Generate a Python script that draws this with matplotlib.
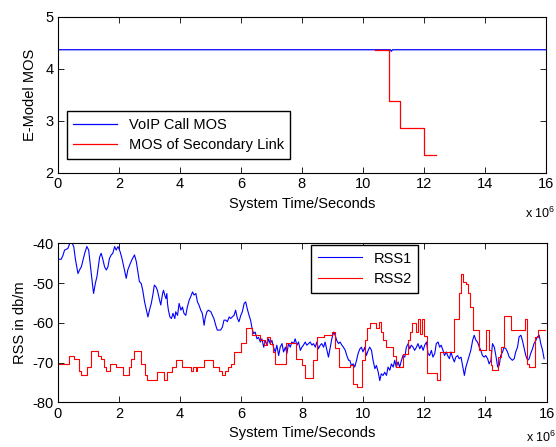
import matplotlib
matplotlib.use("Agg")
import matplotlib.pyplot as plt

plt.rcParams['font.family'] = ['Liberation Sans', 'DejaVu Sans']
plt.rcParams['mathtext.default'] = 'regular'
plt.rcParams['axes.unicode_minus'] = False

# ---- top panel: MOS (time in units of 1e6 s)
voip_time = [0, 10.90, 10.93, 10.97, 16]
voip_mos = [4.37, 4.37, 4.34, 4.37, 4.37]
sec_time = [10.4, 10.85, 11.2, 12.0, 12.4]
sec_mos = [4.37, 3.38, 2.87, 2.34, 2.34]

# ---- bottom panel: RSS1 (blue, noisy)
rss1_time = [0.00, 0.11, 0.17, 0.22, 0.33, 0.39, 0.46, 0.52, 0.58, 0.66, 0.71, 0.77, 0.88, 0.95, 1.01,
             1.04, 1.13, 1.17, 1.23, 1.28, 1.37, 1.42, 1.48, 1.53, 1.59, 1.64, 1.69, 1.75, 1.80, 1.86,
             1.91, 1.97, 2.04, 2.10, 2.18, 2.24, 2.29, 2.35, 2.42, 2.51, 2.57, 2.62, 2.67, 2.73, 2.78,
             2.84, 2.89, 2.95, 3.00, 3.06, 3.11, 3.16,
             3.21, 3.26, 3.32, 3.37, 3.43, 3.46, 3.50, 3.54, 3.57, 3.59, 3.62, 3.67, 3.72, 3.77, 3.83,
             3.86, 3.92, 3.97, 4.03, 4.08, 4.13, 4.19, 4.24, 4.30, 4.35, 4.41, 4.46, 4.52, 4.57, 4.62,
             4.68, 4.73, 4.79, 4.82, 4.88, 4.93, 5.01, 5.06, 5.11, 5.17, 5.22, 5.28, 5.33, 5.39, 5.44,
             5.50, 5.55, 5.61, 5.66, 5.71, 5.77, 5.82, 5.88, 5.93, 5.99, 6.04, 6.10, 6.15, 6.20, 6.26, 6.31,
             6.36, 6.41, 6.46, 6.52, 6.57, 6.63, 6.68, 6.74, 6.79, 6.85, 6.90, 6.95, 7.01, 7.06, 7.12,
             7.17, 7.23, 7.28, 7.34, 7.39, 7.45, 7.50, 7.55, 7.61, 7.66, 7.72, 7.77, 7.83, 7.88, 7.94,
             7.99, 8.04, 8.10, 8.15, 8.21, 8.26, 8.32, 8.37, 8.43, 8.48, 8.53, 8.59, 8.64, 8.70, 8.75,
             8.81, 8.86, 8.92, 8.97, 9.03, 9.08, 9.13, 9.19, 9.24, 9.30, 9.35, 9.41, 9.46, 9.52,
             9.56, 9.61, 9.67, 9.72, 9.78, 9.83, 9.89, 9.94, 9.99, 10.05, 10.10, 10.16, 10.21, 10.27, 10.32,
             10.38, 10.43, 10.49, 10.54, 10.59, 10.65, 10.70, 10.76, 10.81, 10.87, 10.92, 10.98, 11.03, 11.08, 11.14,
             11.19, 11.25, 11.30, 11.36, 11.41, 11.47, 11.52, 11.57, 11.63, 11.68, 11.74, 11.79, 11.85, 11.90, 11.96,
             12.01, 12.07, 12.12, 12.17, 12.23, 12.28, 12.34, 12.39, 12.45, 12.50, 12.55, 12.61, 12.66, 12.72,
             12.76, 12.82, 12.87, 12.92, 12.98, 13.03, 13.09, 13.14, 13.20, 13.25, 13.31, 13.36, 13.41, 13.47, 13.52,
             13.58, 13.63, 13.69, 13.74, 13.80, 13.85, 13.90, 13.96, 14.01, 14.07, 14.12, 14.18, 14.23, 14.29, 14.34,
             14.40, 14.45, 14.50, 14.56, 14.61, 14.67, 14.72, 14.78, 14.83, 14.88, 14.94, 14.99, 15.05, 15.10, 15.16,
             15.21, 15.27, 15.32, 15.38, 15.43, 15.48, 15.54, 15.59, 15.65, 15.70, 15.76, 15.81, 15.87, 15.92]
rss1_dbm = [-44.0, -44.0, -43.0, -41.7, -41.3, -40.0, -39.8, -40.8, -44.2, -47.6, -46.7, -45.9, -42.5, -40.8, -41.7,
            -43.8, -50.0, -52.6, -50.0, -48.4, -43.4, -42.5, -44.2, -45.9, -46.7, -45.9, -43.8, -42.9, -42.5, -40.8,
            -41.7, -40.8, -42.1, -43.8, -46.7, -48.8, -46.7, -45.5, -44.2, -42.9, -44.6, -47.1, -49.6, -50.1, -51.8,
            -54.7, -56.4, -58.5, -56.8, -55.1, -53.0, -50.5,
            -50.9, -51.8, -53.9, -55.5, -52.6, -51.8, -53.0, -53.9, -52.6, -55.1, -56.8, -58.5, -58.9, -57.6, -58.9,
            -57.2, -58.1, -55.1, -56.8, -56.0, -57.6, -58.1, -56.0, -54.3, -53.4, -52.2, -53.0, -52.6, -54.7, -55.5,
            -56.8, -57.6, -60.6, -58.9, -57.2, -56.8, -57.2, -58.1, -58.9, -60.6, -61.8, -61.8, -61.8, -61.0, -59.3,
            -59.3, -59.7, -58.5, -58.9, -58.5, -58.1, -56.8, -58.9, -59.7, -58.1, -57.2, -55.1, -54.7, -56.4, -58.1, -59.3,
            -61.4, -62.7, -62.3, -64.0, -63.6, -64.8, -64.0, -66.1, -64.4, -65.6, -64.0, -65.2, -64.4, -66.1, -67.3,
            -65.6, -68.2, -66.1, -65.2, -67.3, -66.1, -67.7, -65.2, -66.1, -64.8, -65.2, -64.0, -65.6, -64.8, -66.9,
            -66.1, -65.6, -64.8, -65.6, -65.2, -64.8, -65.6, -65.2, -66.1, -64.8, -66.5, -65.6, -65.2, -66.1, -64.8,
            -66.9, -68.6, -66.1, -64.0, -62.3, -63.1, -64.4, -65.2, -64.8, -65.6, -66.1, -66.9, -68.2, -69.4,
            -69.4, -70.7, -70.3, -71.1, -69.4, -67.7, -66.5, -66.1, -67.3, -66.1, -68.2, -66.9, -66.1, -66.9, -69.4,
            -71.5, -70.7, -72.4, -74.5, -72.8, -73.2, -72.4, -73.2, -71.1, -71.9, -70.3, -71.1, -69.4, -71.1, -69.8,
            -71.1, -69.4, -68.2, -68.6, -66.1, -65.2, -66.5, -65.6, -66.1, -66.9, -66.1, -65.2, -66.5, -65.6, -66.9,
            -65.6, -64.8, -67.7, -68.2, -66.9, -68.6, -67.7, -65.2, -64.8, -66.1, -65.6, -66.9, -68.2, -67.3,
            -68.2, -69.0, -67.3, -68.6, -69.8, -68.6, -68.2, -69.0, -68.6, -70.7, -73.2, -71.1, -69.8, -68.2, -66.9,
            -64.4, -63.1, -64.4, -64.8, -66.1, -66.9, -68.2, -68.6, -68.2, -69.0, -70.3, -69.4, -65.2, -66.1, -68.2,
            -71.1, -70.7, -68.2, -67.3, -66.1, -66.5, -67.3, -68.6, -69.0, -69.4, -69.0, -67.3, -66.1, -63.5, -63.1,
            -64.4, -66.5, -68.2, -69.4, -69.0, -67.7, -66.5, -65.2, -64.4, -63.5, -63.1, -65.2, -66.9, -69.0]

# RSS2 (red, step changes: start time of each level)
rss2_time = [0.00, 0.36, 0.52, 0.69, 0.77, 0.96, 1.10, 1.31, 1.42, 1.51, 1.59, 1.72, 1.91, 2.13, 2.33,
             2.41, 2.51, 2.73, 2.84, 2.91, 3.26, 3.46, 3.59, 3.75, 3.86, 4.05, 4.37, 4.44, 4.52, 4.57,
             4.77, 5.09, 5.28, 5.39, 5.46, 5.57, 5.68, 5.77, 6.01, 6.15, 6.37, 6.63, 6.74, 6.85, 6.96,
             7.03, 7.12, 7.47, 7.80, 7.99, 8.10, 8.37, 8.48, 8.70, 8.97, 9.08, 9.19, 9.56, 9.67, 9.80,
             9.97, 10.05, 10.13, 10.23, 10.41, 10.52, 10.59, 10.65, 10.74, 10.98, 11.08, 11.30, 11.46, 11.54, 11.61,
             11.74, 11.79, 11.87, 11.92, 11.98, 12.08, 12.40, 12.50, 12.96, 13.12, 13.20, 13.28, 13.36, 13.44, 13.50,
             13.58, 13.80, 14.02, 14.12, 14.18, 14.23, 14.40, 14.50, 14.61, 14.83, 15.29, 15.37, 15.43, 15.62, 15.73,
             15.95]
rss2_dbm = [-70.4, -68.4, -69.0, -72.1, -73.2, -71.1, -67.1, -68.2, -69.0, -71.1, -72.2, -70.4, -71.1, -73.2, -71.1,
            -69.0, -67.1, -70.3, -73.2, -74.3, -72.4, -74.3, -72.4, -71.1, -69.2, -71.1, -72.1, -71.1, -72.1, -71.1,
            -69.2, -71.1, -72.1, -73.2, -72.1, -71.1, -70.4, -67.3, -65.0, -61.2, -63.1, -64.4, -65.6, -63.5, -65.2,
            -67.3, -70.3, -65.1, -69.0, -70.5, -73.9, -69.3, -63.5, -63.1, -62.3, -66.3, -71.1, -70.5, -75.3, -76.1,
            -69.4, -64.4, -61.4, -60.0, -61.4, -59.7, -62.3, -64.4, -66.1, -68.2, -71.1, -67.7, -64.4, -62.3, -60.0,
            -62.3, -58.9, -62.7, -58.9, -63.4, -72.6, -74.3, -67.3, -58.9, -52.6, -47.6, -49.7, -50.1, -52.6, -56.0,
            -61.8, -66.9, -61.8, -66.9, -70.7, -71.9, -68.6, -66.1, -58.3, -61.8, -58.9, -70.3, -71.1, -63.5, -61.8,
            -61.8]

xticks = [0, 2, 4, 6, 8, 10, 12, 14, 16]

fig = plt.figure(figsize=(5.56, 4.47), dpi=100)
ax1 = fig.add_axes([0.104, 0.613, 0.878, 0.349])
ax2 = fig.add_axes([0.104, 0.0996, 0.879, 0.356])

ax1.plot(voip_time, voip_mos, color='#0000ff', lw=0.9, label='VoIP Call MOS')
ax1.plot(sec_time, sec_mos, color='#ff0000', lw=0.9, drawstyle='steps-post', label='MOS of Secondary Link')
ax1.set_xlim(0, 16)
ax1.set_ylim(2, 5)
ax1.set_yticks([2, 3, 4, 5])
ax1.set_ylabel('E-Model MOS', fontsize=10.5, labelpad=6)
ax1.set_xlabel('System Time/Seconds', fontsize=10.5, labelpad=4)
ax1.legend(loc='upper left', bbox_to_anchor=(0.018, 0.397), borderaxespad=0, fancybox=False,
           edgecolor='black', framealpha=1, fontsize=10.5, handlelength=3.0, borderpad=0.45,
           labelspacing=0.45)

ax2.plot(rss1_time, rss1_dbm, color='#0000ff', lw=0.8, label='RSS1')
ax2.plot(rss2_time, rss2_dbm, color='#ff0000', lw=0.8, drawstyle='steps-post', label='RSS2')
ax2.set_xlim(0, 16)
ax2.set_ylim(-80, -40)
ax2.set_yticks([-80, -70, -60, -50, -40])
ax2.set_ylabel('RSS in db/m', fontsize=10.5, labelpad=4)
ax2.set_xlabel('System Time/Seconds', fontsize=10.5, labelpad=4)
ax2.legend(loc='upper left', bbox_to_anchor=(0.519, 0.99), borderaxespad=0, fancybox=False,
           edgecolor='black', framealpha=1, fontsize=10.5, handlelength=3.0, borderpad=0.45,
           labelspacing=0.45)

for ax, ypos in ((ax1, -0.256), (ax2, -0.222)):
    ax.set_xticks(xticks)
    ax.tick_params(direction='in', top=True, right=True, length=4, width=0.6, labelsize=10.5, pad=3)
    for s in ax.spines.values():
        s.set_linewidth(0.8)
    ax.text(0.958, ypos, r'x 10$^6$', transform=ax.transAxes, fontsize=9, ha='left', va='center')

fig.savefig('out.png', dpi=100)
